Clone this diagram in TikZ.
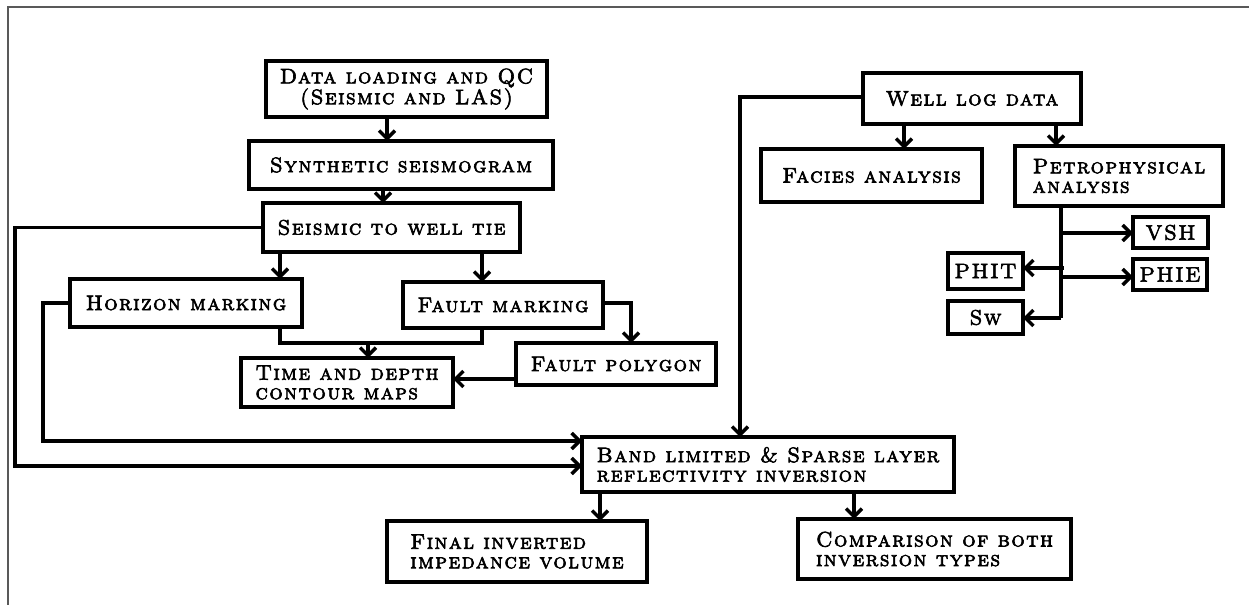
\documentclass[tikz,border=0pt]{standalone}
\usepackage{fontspec}
\usetikzlibrary{arrows.meta}
\newfontfamily\cpfont{lmromancaps10-regular.otf}[LetterSpace=7,FakeBold=3]
\tikzset{
  box/.style={draw, line width=3.4pt, outer sep=0pt, inner sep=2pt,
    font=\fontsize{21}{19.5}\selectfont\cpfont, align=center},
  lbox/.style={box, align=left},
  arr/.style={line width=3.4pt, -{Straight Barb[length=8pt,width=16pt]}},
  ln/.style={line width=3.4pt},
  frame/.style={black!65, line width=1.2pt},
}
\begin{document}
\begin{tikzpicture}[x=1pt,y=-1pt]
\useasboundingbox (0,0) rectangle (1249,605);
\draw[frame] (1249,7) -- (8,7) -- (8,605);

% left column
\node[box, minimum width=281pt, minimum height=56pt] (dl) at (406.5,89) {Data loading and QC\\(Seismic and LAS)};
\node[box, minimum width=304pt, minimum height=48pt] (syn) at (401,165) {Synthetic seismogram};
\node[box, minimum width=257pt, minimum height=49pt] (tie) at (391.5,227.5) {Seismic to well tie};
\node[box, minimum width=232pt, minimum height=48pt] (hor) at (186,303) {Horizon marking};
\node[box, minimum width=200pt, minimum height=46pt] (fm) at (503,305) {Fault marking};
\node[box, minimum width=200pt, minimum height=42pt] (fp) at (616,364) {Fault polygon};
\node[lbox, minimum width=212pt, minimum height=49pt] (td) at (347,382.5) {Time and depth\\contour maps};
\node[lbox, minimum width=372pt, minimum height=55pt] (band) at (768,464.5) {Band limited \& Sparse layer\\reflectivity inversion};
\node[lbox, minimum width=260pt, minimum height=61pt] (fin) at (517,551.5) {Final inverted\\impedance volume};
\node[lbox, minimum width=273pt, minimum height=60pt] (cmp) at (934.5,549) {Comparison of both\\inversion types};

% right column
\node[box, minimum width=218pt, minimum height=51pt] (wl) at (972,98.5) {Well log data};
\node[box, minimum width=221pt, minimum height=53pt] (fac) at (871.5,175.5) {Facies analysis};
\node[lbox, minimum width=208pt, minimum height=60pt] (pet) at (1119,176) {Petrophysical\\analysis};
\node[box, minimum width=75pt, minimum height=31pt] (vsh) at (1170.5,232.5) {VSH};
\node[box, minimum width=75pt, minimum height=36pt] (phit) at (985.5,271) {PHIT};
\node[box, minimum width=74pt, minimum height=31pt] (phie) at (1170,274.5) {PHIE};
\node[box, minimum width=75pt, minimum height=33pt] (sw) at (985.5,317.5) {Sw};

% helper coordinates
\coordinate (c387) at (387,0);
\coordinate (c383) at (383,0);
\coordinate (c280) at (280,0);
\coordinate (c482) at (482,0);
\coordinate (tL) at (15,466);
\coordinate (hL) at (43,441);
\coordinate (hb) at (280,343);
\coordinate (fb) at (482,343);
\coordinate (j) at (368,343);
\coordinate (fpx) at (631,303);
\coordinate (fty) at (0,379);
\coordinate (wx) at (740,97);
\coordinate (c904) at (904,0);
\coordinate (c1056) at (1056,0);
\coordinate (pv) at (1061,318);
\coordinate (y233) at (1061,233);
\coordinate (y268) at (1064,268);
\coordinate (y277) at (1061,277);
\coordinate (c600) at (600,0);
\coordinate (c854) at (854,0);

% connectors
\draw[arr] (dl.south -| c387) -- (syn.north -| c387);
\draw[arr] (syn.south -| c383) -- (tie.north -| c383);
\draw[arr] (tie.south -| c280) -- (hor.north -| c280);
\draw[arr] (tie.south -| c482) -- (fm.north -| c482);
\draw[arr] (tie.west) -| (tL) -- (band.west |- tL);
\draw[arr] (hor.west) -| (hL) -- (band.west |- hL);
\draw[ln] (hor.south -| hb) -- (hb) -- (fb) -- (fm.south -| fb);
\draw[arr] (j) -- (td.north -| j);
\draw[arr] (fm.east |- fpx) -| (fp.north -| fpx);
\draw[arr] (fp.west |- fty) -- (td.east |- fty);
\draw[arr] (wl.west |- wx) -| (band.north -| wx);
\draw[arr] (wl.south -| c904) -- (fac.north -| c904);
\draw[arr] (wl.south -| c1056) -- (pet.north -| c1056);
\draw[ln] (pet.south -| pv) -- (pv);
\draw[arr] (y233) -- (vsh.west |- y233);
\draw[arr] (y268) -- (phit.east |- y268);
\draw[arr] (y277) -- (phie.west |- y277);
\draw[arr] (pv) -- (sw.east |- pv);
\draw[arr] (band.south -| c600) -- (fin.north -| c600);
\draw[arr] (band.south -| c854) -- (cmp.north -| c854);
\end{tikzpicture}
\end{document}
